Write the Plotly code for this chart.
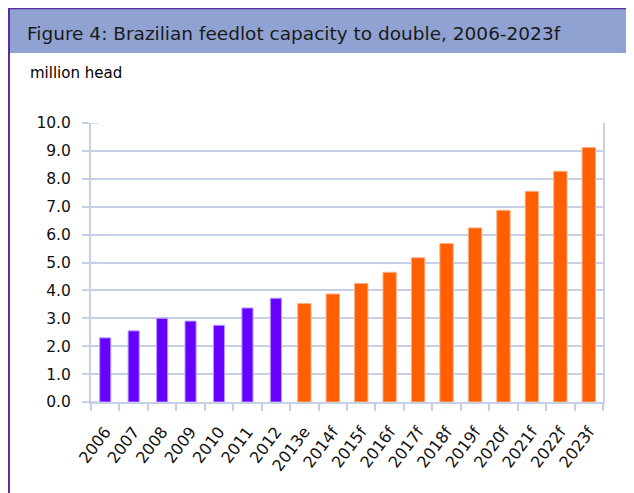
import plotly.graph_objects as go

years = ["2006", "2007", "2008", "2009", "2010", "2011", "2012", "2013e",
         "2014f", "2015f", "2016f", "2017f", "2018f", "2019f", "2020f",
         "2021f", "2022f", "2023f"]
capacity = [2.3, 2.55, 3.0, 2.9, 2.75, 3.37, 3.72, 3.53,
            3.87, 4.25, 4.65, 5.17, 5.68, 6.24, 6.87,
            7.55, 8.27, 9.12]

AXIS = "#c5cfe6"
PURPLE = "#6600ff"
ORANGE = "#ff5f00"
BORDER = "#5a2ca6"

# estimates/forecasts (2013e onwards) are drawn in orange
is_fc = [y[-1] in "ef" for y in years]
colors = [ORANGE if f else PURPLE for f in is_fc]
edges = ["#ffb085" if f else "#b99aff" for f in is_fc]
widths = [0.47 if f else 0.39 for f in is_fc]

# plot area is 512 x 279 px; paper coords below are computed from pixels
PW, PH = 512.0, 279.0

fig = go.Figure(go.Bar(
    x=years, y=capacity,
    marker=dict(color=colors, line=dict(color=edges, width=1)),
    width=widths,
))

fig.update_layout(
    width=626, height=485,
    margin=dict(l=83, r=31, t=115, b=91),
    paper_bgcolor="white", plot_bgcolor="white",
    showlegend=False,
    font=dict(family="DejaVu Sans", color="black"),
    shapes=[
        # title band
        dict(type="rect", xref="paper", yref="paper",
             x0=-0.3, x1=1.3, y0=1.0 + 70 / PH, y1=1.0 + 116 / PH,
             fillcolor="#8fa2d2", line=dict(width=0), layer="below"),
        dict(type="line", xref="paper", yref="paper",
             x0=-0.3, x1=1.3, y0=1.0 + 114.5 / PH, y1=1.0 + 114.5 / PH,
             line=dict(color=BORDER, width=1.5)),
        # left border
        dict(type="line", xref="paper", yref="paper",
             x0=-82 / PW, x1=-82 / PW, y0=-0.4, y1=1.0 + 116 / PH,
             line=dict(color=BORDER, width=2)),
        # short y tick stubs poking into the plot area
        *[dict(type="line", xref="paper", yref="y",
               x0=0, x1=7 / PW, y0=v, y1=v,
               line=dict(color=AXIS, width=1.5)) for v in range(11)],
    ],
    annotations=[
        dict(text="Figure 4: Brazilian feedlot capacity to double, 2006-2023f",
             xref="paper", yref="paper", x=-66 / PW, y=1.0 + 90 / PH,
             xanchor="left", yanchor="middle", showarrow=False,
             font=dict(family="DejaVu Sans", size=18.5, color="#1a1a1a")),
        dict(text="million head",
             xref="paper", yref="paper", x=-63 / PW, y=1.0 + 50 / PH,
             xanchor="left", yanchor="middle", showarrow=False,
             font=dict(family="DejaVu Sans", size=15, color="black")),
    ],
)

fig.update_xaxes(
    type="category", tickangle=-53, tickson="boundaries",
    ticks="outside", ticklen=7, tickcolor=AXIS, tickwidth=1.5,
    ticklabelstandoff=12,
    showline=True, linecolor=AXIS, linewidth=2, mirror=False,
    showgrid=False, tickfont=dict(size=16, color="#111"),
)
fig.update_yaxes(
    range=[0, 10], dtick=1, tickformat=".1f",
    ticks="outside", ticklen=7, tickcolor=AXIS, tickwidth=1.5,
    ticklabelstandoff=8,
    showline=True, linecolor=AXIS, linewidth=2, mirror=True,
    showgrid=True, gridcolor=AXIS, gridwidth=1.5,
    zeroline=False, tickfont=dict(size=15.5, color="#111"),
)

fig.write_html("out.html")
